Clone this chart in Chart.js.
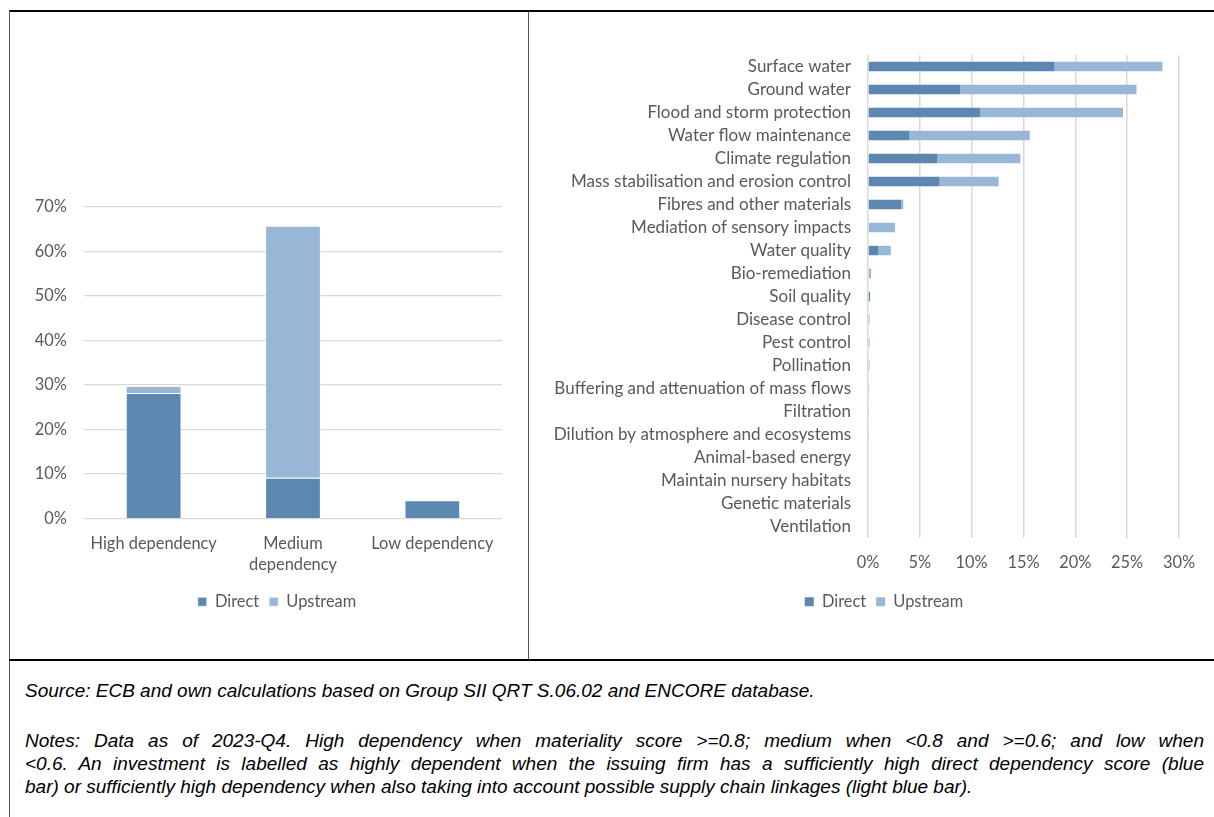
<!DOCTYPE html>
<html>
<head>
<meta charset="utf-8">
<script src="https://cdn.jsdelivr.net/npm/chart.js@4"></script>
<style>
  html, body { margin: 0; padding: 0; background: #fff; overflow: hidden; width: 1214px; height: 817px; }
  .line { position: absolute; }
  #leftBox { position: absolute; left: 10px; top: 12px; width: 540px; height: 647px; }
  #rightBox { position: absolute; left: 530px; top: 12px; width: 710px; height: 647px; }
  #notes { position: absolute; left: 25px; top: 679px; width: 1179px;
           font-family: "Liberation Sans", Arial, sans-serif; font-style: italic;
           font-size: 19px; line-height: 23px; color: #000; }
  #notes div { white-space: nowrap; }
  #notes .j { text-align: justify; text-align-last: justify; }
  #notes .gap { height: 27px; }
</style>
</head>
<body>
<!-- table borders -->
<div class="line" style="left:9px; top:10px; width:1205px; height:2px; background:#000;"></div>
<div class="line" style="left:9px; top:10px; width:1px; height:807px; background:#555;"></div>
<div class="line" style="left:528px; top:12px; width:1px; height:647px; background:#555;"></div>
<div class="line" style="left:9px; top:659px; width:1205px; height:2px; background:#000;"></div>

<div id="leftBox"><canvas id="left"></canvas></div>
<div id="rightBox"><canvas id="right"></canvas></div>

<div id="notes">
  <div>Source: ECB and own calculations based on Group SII QRT S.06.02 and ENCORE database.</div>
  <div class="gap"></div>
  <div class="j">Notes: Data as of 2023-Q4. High dependency when materiality score &gt;=0.8; medium when &lt;0.8 and &gt;=0.6; and low when</div>
  <div class="j">&lt;0.6. An investment is labelled as highly dependent when the issuing firm has a sufficiently high direct dependency score (blue</div>
  <div>bar) or sufficiently high dependency when also taking into account possible supply chain linkages (light blue bar).</div>
</div>

<script>
// data (percent)
const depCats = ['High dependency', ['Medium', 'dependency'], 'Low dependency'];
const depDirect = [28.2, 9.2, 4.1];
const depUpstream = [1.6, 56.6, 0];
const depTicks = [0, 10, 20, 30, 40, 50, 60, 70];

const serviceCats = [
  'Surface water', 'Ground water', 'Flood and storm protection', 'Water flow maintenance',
  'Climate regulation', 'Mass stabilisation and erosion control', 'Fibres and other materials',
  'Mediation of sensory impacts', 'Water quality', 'Bio-remediation', 'Soil quality',
  'Disease control', 'Pest control', 'Pollination', 'Buffering and attenuation of mass flows',
  'Filtration', 'Dilution by atmosphere and ecosystems', 'Animal-based energy',
  'Maintain nursery habitats', 'Genetic materials', 'Ventilation'
];
const serviceDirect = [18.0, 8.9, 10.8, 4.0, 6.7, 6.9, 3.2, 0, 1.0, 0, 0.2, 0, 0, 0, 0, 0, 0, 0, 0, 0, 0];
const serviceUpstream = [10.4, 17.0, 13.8, 11.6, 8.0, 5.7, 0.2, 2.6, 1.2, 0.3, 0, 0.15, 0.15, 0.15, 0.12, 0.05, 0.05, 0, 0, 0, 0];
const serviceTicks = [0, 5, 10, 15, 20, 25, 30];

const DARK = '#5b87b1';
const LIGHT = '#98b6d6';
const TXT = '#595959';
const GRID = '#d9d9d9';
const FONT = { family: 'Lato, "Open Sans", sans-serif', size: 16.4 };
const FONT_R = { family: FONT.family, size: 17 };

Chart.defaults.font.family = FONT.family;
Chart.defaults.color = TXT;

const legendOpts = {
    position: 'bottom',
    labels: { boxWidth: 9, boxHeight: 9, padding: 10, color: TXT, font: FONT }
};

// empty axis on the right, only there to push the legend centre where Excel put it
const spacer = w => ({
    type: 'linear', axis: 'y', position: 'right', display: true,
    grid: { display: false, drawTicks: false }, border: { display: false },
    ticks: { display: false },
    afterFit: s => { s.width = w; }
});

// left: dependency levels
new Chart(document.getElementById('left'), {
    type: 'bar',
    data: {
        labels: depCats,
        datasets: [
            { label: 'Direct', data: depDirect, backgroundColor: DARK, borderColor: 'rgba(255,255,255,0.6)', borderWidth: 1, barPercentage: 0.4, categoryPercentage: 1 },
            { label: 'Upstream', data: depUpstream, backgroundColor: LIGHT, borderColor: 'rgba(255,255,255,0.6)', borderWidth: 1, barPercentage: 0.4, categoryPercentage: 1 }
        ]
    },
    options: {
        responsive: true,
        maintainAspectRatio: false,
        animation: false,
        layout: { padding: { left: 0, right: 6, top: 195, bottom: 39 } },
        plugins: { legend: legendOpts, tooltip: { enabled: false } },
        scales: {
            x: {
                stacked: true,
                grid: { display: false, drawTicks: false },
                border: { display: false },
                ticks: { color: TXT, font: { ...FONT, lineHeight: 1.31 }, padding: 14, maxRotation: 0 },
                afterFit: s => { s.height = 65; }
            },
            y: {
                stacked: true,
                min: 0, max: 70,
                afterBuildTicks: s => { s.ticks = depTicks.map(v => ({ value: v })); },
                grid: { color: GRID, lineWidth: 1.3, drawTicks: false },
                border: { display: false },
                ticks: { color: TXT, font: FONT, padding: 17, callback: v => v + '%' },
                afterFit: s => { s.width = 74; }
            },
            yR: spacer(42)
        }
    }
});

// right: ecosystem services
new Chart(document.getElementById('right'), {
    type: 'bar',
    data: {
        labels: serviceCats,
        datasets: [
            { label: 'Direct', data: serviceDirect, backgroundColor: DARK, barPercentage: 0.41, categoryPercentage: 1 },
            { label: 'Upstream', data: serviceUpstream, backgroundColor: LIGHT, barPercentage: 0.41, categoryPercentage: 1 }
        ]
    },
    options: {
        indexAxis: 'y',
        responsive: true,
        maintainAspectRatio: false,
        animation: false,
        layout: { padding: { left: 0, right: 2, top: 43, bottom: 39 } },
        plugins: { legend: legendOpts, tooltip: { enabled: false } },
        scales: {
            x: {
                stacked: true,
                min: 0, max: 30,
                afterBuildTicks: s => { s.ticks = serviceTicks.map(v => ({ value: v })); },
                grid: { color: GRID, lineWidth: 1.5, drawTicks: false },
                border: { display: false },
                ticks: { color: TXT, font: FONT, padding: 15, callback: v => v + '%' },
                afterFit: s => { s.height = 45.5; }
            },
            y: {
                stacked: true,
                grid: { display: false, drawTicks: false },
                border: { display: false },
                ticks: { color: TXT, font: FONT_R, padding: 17, autoSkip: false },
                afterFit: s => { s.width = 338; }
            },
            yR: spacer(59)
        }
    }
});
</script>
</body>
</html>
